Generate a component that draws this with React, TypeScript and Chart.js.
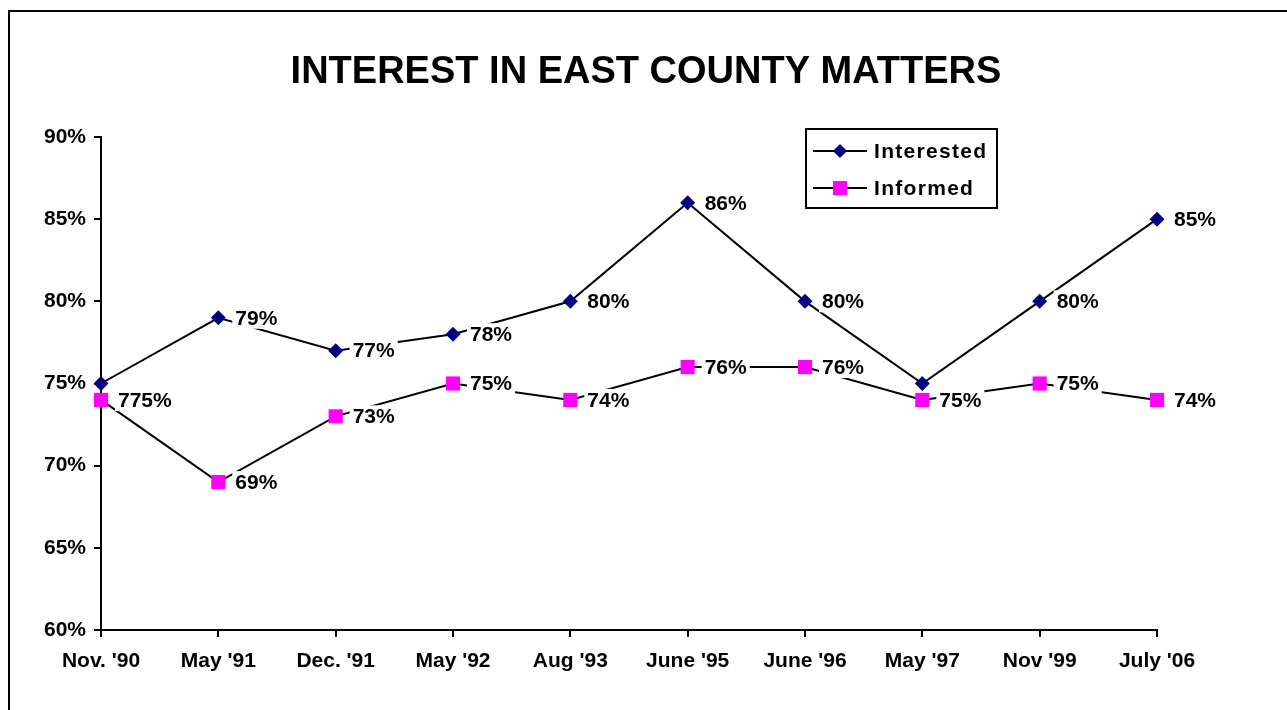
import React, { useEffect, useRef } from "react";
import { Chart, registerables } from "chart.js";

Chart.register(...registerables);

const categories = ["Nov. '90", "May '91", "Dec. '91", "May '92", "Aug '93", "June '95", "June '96", "May '97", "Nov '99", "July '06"];
const interested = [75, 79, 77, 78, 80, 86, 80, 75, 80, 85];
const informed = [74, 69, 73, 75, 74, 76, 76, 74, 75, 74];
// data label texts as printed in the original (overlapping labels merged there)
const interestedLabels = ["", "79%", "77%", "78%", "80%", "86%", "80%", "", "80%", "85%"];
const informedLabels = ["775%", "69%", "73%", "75%", "74%", "76%", "76%", "75%", "75%", "74%"];
const yTicks = [60, 65, 70, 75, 80, 85, 90];
const title = "INTEREST IN EAST COUNTY MATTERS";

const FONT = "Arial, 'Liberation Sans', sans-serif";

const overlayPlugin = {
  id: "overlay",
  afterDatasetsDraw(chart: any) {
    const ctx = chart.ctx;
    ctx.save();
    // data labels
    ctx.font = `bold 21px ${FONT}`;
    ctx.textBaseline = "middle";
    ctx.textAlign = "left";
    const labelSets = [interestedLabels, informedLabels];
    chart.data.datasets.forEach((ds: any, di: number) => {
      const meta = chart.getDatasetMeta(di);
      meta.data.forEach((pt: any, i: number) => {
        const txt = labelSets[di][i];
        if (!txt) return;
        const x = pt.x + 17;
        const y = pt.y;
        const w = ctx.measureText(txt).width;
        ctx.fillStyle = "#ffffff";
        ctx.fillRect(x - 3, y - 11, w + 6, 22);
        ctx.fillStyle = "#000000";
        ctx.fillText(txt, x, y + 1);
      });
    });
    // title
    ctx.font = `bold 38px ${FONT}`;
    ctx.textAlign = "center";
    ctx.fillStyle = "#000";
    ctx.fillText(title, 636, 61);
    // legend
    const bx = 796, by = 117, bw = 191, bh = 79;
    ctx.fillStyle = "#fff";
    ctx.fillRect(bx, by, bw, bh);
    ctx.strokeStyle = "#000";
    ctx.lineWidth = 2;
    ctx.strokeRect(bx, by, bw, bh);
    const rows = [139, 176];
    chart.data.datasets.forEach((ds: any, di: number) => {
      const y = rows[di];
      ctx.strokeStyle = "#000";
      ctx.lineWidth = 2;
      ctx.beginPath();
      ctx.moveTo(803, y);
      ctx.lineTo(857, y);
      ctx.stroke();
      ctx.fillStyle = ds.pointBackgroundColor;
      if (di === 0) {
        ctx.beginPath();
        ctx.moveTo(830, y - 7);
        ctx.lineTo(837, y);
        ctx.lineTo(830, y + 7);
        ctx.lineTo(823, y);
        ctx.closePath();
        ctx.fill();
      } else {
        ctx.fillRect(823, y - 7, 14, 14);
      }
      ctx.fillStyle = "#000";
      ctx.font = `bold 21px ${FONT}`;
      (ctx as any).letterSpacing = "1.3px";
      ctx.textAlign = "left";
      ctx.fillText(ds.label, 864, y + 1);
      (ctx as any).letterSpacing = "0px";
    });
    ctx.restore();
  },
};

export default function App() {
  const ref = useRef<HTMLCanvasElement | null>(null);
  useEffect(() => {
    if (!ref.current) return;
    const chart = new Chart(ref.current, {
      type: "line",
      data: {
        labels: categories,
        datasets: [
          {
            label: "Interested",
            data: interested,
            borderColor: "#000000",
            borderWidth: 2,
            pointStyle: "rectRot",
            pointRadius: 7.5,
            pointBackgroundColor: "#000080",
            pointBorderColor: "#000080",
            pointBorderWidth: 0,
            tension: 0,
          },
          {
            label: "Informed",
            data: informed,
            borderColor: "#000000",
            borderWidth: 2,
            pointStyle: "rect",
            pointRadius: 10,
            pointBackgroundColor: "#FF00FF",
            pointBorderColor: "#FF00FF",
            pointBorderWidth: 0,
            tension: 0,
          },
        ],
      },
      options: {
        animation: false,
        responsive: false,
        maintainAspectRatio: false,
        layout: { padding: { top: 125, right: 130, left: 0, bottom: 0 } },
        plugins: {
          legend: { display: false },
          title: { display: false },
          tooltip: { enabled: false },
        },
        scales: {
          x: {
            offset: false,
            grid: { display: true, drawOnChartArea: false, drawTicks: true, tickLength: 7, color: "#000", lineWidth: 2 },
            border: { display: true, color: "#000", width: 2 },
            ticks: {
              color: "#000",
              font: { family: FONT, size: 21, weight: "bold" },
              padding: 12,
              maxRotation: 0,
              autoSkip: false,
            },
            afterFit(scale: any) {
              scale.height = 80;
            },
          },
          y: {
            min: 60,
            max: 90,
            afterBuildTicks(scale: any) {
              scale.ticks = yTicks.map((v) => ({ value: v }));
            },
            grid: { display: true, drawOnChartArea: false, drawTicks: true, tickLength: 7, color: "#000", lineWidth: 2 },
            border: { display: true, color: "#000", width: 2 },
            ticks: {
              color: "#000",
              font: { family: FONT, size: 21, weight: "bold" },
              padding: 8,
              callback: (v: any) => v + "%",
            },
            afterFit(scale: any) {
              scale.width = 91;
            },
          },
        },
      },
      plugins: [overlayPlugin],
    });
    return () => chart.destroy();
  }, []);
  return (
    <div
      style={{
        position: "absolute",
        left: 8,
        top: 10,
        width: 1279,
        height: 700,
        boxSizing: "border-box",
        borderTop: "2px solid #000",
        borderLeft: "2px solid #000",
        overflow: "hidden",
        background: "#fff",
      }}
    >
      <canvas ref={ref} width={1277} height={698} style={{ display: "block", width: 1277, height: 698 }} />
    </div>
  );
}
